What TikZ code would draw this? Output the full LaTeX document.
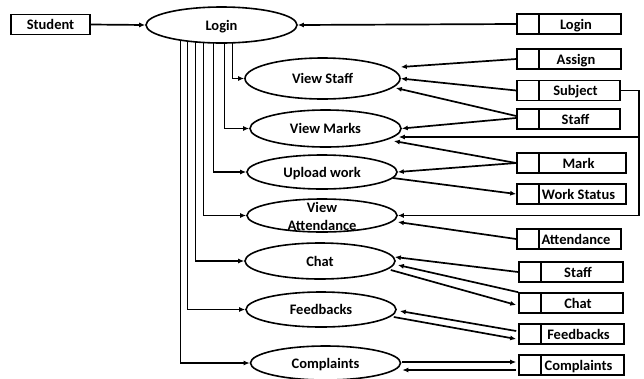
\documentclass[tikz,border=0pt]{standalone}
\usepackage{fontspec}
\setmainfont{Carlito}
\usetikzlibrary{arrows.meta,calc,backgrounds,shapes.geometric}

% label of a data store: empty left compartment, text set in the right one
\newcommand{\dslabel}[2]{\hspace*{22pt}\makebox[\dimexpr#1pt-30pt\relax]{#2}\hspace*{8pt}}

\begin{document}
\begin{tikzpicture}[x=1pt,y=-1pt,
  every node/.style={font=\fontsize{14.5}{18}\selectfont\bfseries, text height=12pt, text depth=2pt},
  proc/.style={ellipse, draw, line width=1.6pt, fill=white, inner sep=0pt},
  ext/.style={rectangle, draw, line width=1.6pt, inner sep=0pt, minimum width=79pt, minimum height=20pt},
  store/.style={rectangle, draw, line width=1.6pt, fill=white, inner sep=0pt, minimum height=20pt,
    path picture={\draw[line width=1.6pt]
      ([xshift=22pt]path picture bounding box.north west) --
      ([xshift=22pt]path picture bounding box.south west);}},
  flow/.style={line width=1.7pt, -{Latex[length=6pt,width=5pt]}}
]
\useasboundingbox (0,0) rectangle (644,378);

% external entity and login process
\node[ext] (student) at (50.5,24.5) {Student};
\node[proc, minimum width=151pt, minimum height=36pt] (login) at (221.5,25) {Login};

% processes
\node[proc, minimum width=155pt, minimum height=41pt] (vs) at (322.5,78.5) {View Staff};
\node[proc, minimum width=151pt, minimum height=37pt] (vm) at (325.5,128.5) {View Marks};
\node[proc, minimum width=150pt, minimum height=34pt] (up) at (322,172) {Upload work};
\node[proc, minimum width=150pt, minimum height=33pt] (va) at (322,215.5) {};
\node[align=center, text height=, text depth=] (vaText) at (322,216) {View\\Attendance};
\node[proc, minimum width=150pt, minimum height=36pt] (ch) at (320,261) {Chat};
\node[proc, minimum width=150pt, minimum height=35pt] (fb) at (321,309.5) {Feedbacks};
\node[proc, minimum width=150pt, minimum height=34pt] (cp) at (325.5,363) {Complaints};

% data stores
\node[store] (sLogin)   at (569,24)    {\dslabel{104}{Login}};
\node[store] (sAssign)  at (569,59)    {\dslabel{104}{Assign}};
\node[store] (sSubject) at (568.5,90.5){\dslabel{103}{Subject}};
\node[store] (sStaffA)  at (568.5,119) {\dslabel{103}{Staff}};
\node[store] (sMark)    at (571.5,163) {\dslabel{109}{Mark}};
\node[store] (sWork)    at (571.5,194) {\dslabel{109}{Work Status}};
\node[store] (sAtt)     at (569,239)   {\dslabel{104}{Attendance}};
\node[store] (sStaffB)  at (571,272)   {\dslabel{104}{Staff}};
\node[store] (sChat)    at (571,303)   {\dslabel{104}{Chat}};
\node[store] (sFeed)    at (571.5,334) {\dslabel{105}{Feedbacks}};
\node[store] (sComp)    at (571.5,365) {\dslabel{105}{Complaints}};

% login fans out to every process
\begin{scope}[on background layer]
  \draw[flow] ($(login.center)+(11,0)$)  |- (vs.west);
  \draw[flow] ($(login.center)+(3,0)$)   |- (vm.west);
  \draw[flow] ($(login.center)+(-8,0)$)  |- (up.west);
  \draw[flow] ($(login.center)+(-18,0)$) |- (va.west);
  \draw[flow] ($(login.center)+(-26,0)$) |- (ch.west);
  \draw[flow] ($(login.center)+(-34,0)$) |- (fb.west);
  \draw[flow] ($(login.center)+(-41,0)$) |- (cp.west);
\end{scope}

\draw[flow] (student.east) -- (login.west);
\draw[flow] (sLogin.west) -- (login.east);

% view staff / view marks
\draw[flow] (sAssign.west) -- ($(vs.east)+(0,-11.5)$);
\draw[flow] (sSubject.west) -- (vs.east);
\draw[flow] ($(sStaffA.west)+(0,-3)$) -- ($(vs.east)+(-5,9.5)$);
\draw[flow] ($(sStaffA.west)+(0,-1)$) -- (vm.east);

% subject feeds marks and attendance
\coordinate (bus) at (639,90.5);
\coordinate (vmSub) at ($(vm.east)+(-3,8.5)$);
\draw[flow] (sSubject.east) -| (bus |- va.east) -- (va.east);
\draw[flow] (bus |- vmSub) -- (vmSub);

% marks and work
\draw[flow] (sMark.west) -- ($(vm.east)+(-8,12.5)$);
\draw[flow] (sMark.west) -- (up.east);
\draw[flow] ($(up.east)+(-5,6)$) -- (sWork.west);

% attendance
\draw[flow] (sAtt.west) -- ($(va.east)+(0,6.5)$);

% chat
\draw[flow] (sStaffB.west) -- ($(ch.east)+(-1,-4)$);
\draw[flow] (sChat.north west) -- ($(ch.east)+(2,4)$);
\draw[flow] ($(ch.east)+(-5,9)$) -- ($(sChat.west)+(-2,2)$);

% feedbacks
\draw[flow] ($(sFeed.west)+(-2,-3)$) -- ($(fb.east)+(3,1.5)$);
\draw[flow] ($(fb.east)+(-3,7.5)$) -- ($(sFeed.west)+(-2,5)$);

% complaints
\draw[flow] ($(cp.east)+(1,-1)$) -- ($(sComp.west)+(-2,-3)$);
\draw[flow] ($(sComp.west)+(-2,5)$) -- ($(cp.east)+(1,7)$);
\end{tikzpicture}
\end{document}
